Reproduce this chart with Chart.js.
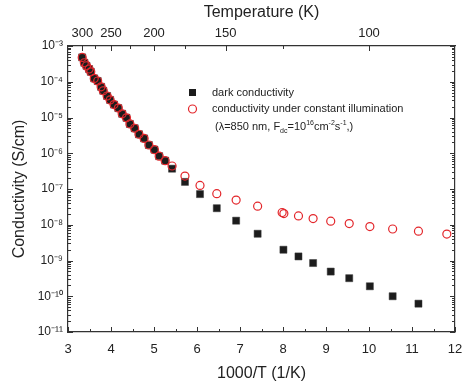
<!DOCTYPE html>
<html>
<head>
<meta charset="utf-8">
<script src="https://cdn.jsdelivr.net/npm/chart.js@4.4.0/dist/chart.umd.min.js"></script>
<style>
body { margin: 0; background: #fff; }
#wrap { width: 462px; height: 388px; }
</style>
</head>
<body>
<div id="wrap"><canvas id="chart"></canvas></div>
<script>
'use strict';

// dark conductivity, x = 1000/T (1/K), y = S/cm
let darkX = [3.33, 3.38, 3.43, 3.49, 3.53, 3.61, 3.69, 3.77, 3.82, 3.91, 3.98, 4.07, 4.17, 4.26, 4.36, 4.44,
    4.55, 4.65, 4.77, 4.88, 5.01, 5.12, 5.26, 5.42, 5.72, 6.07, 6.46, 6.91, 7.41, 8.01, 8.36, 8.70,
    9.11, 9.54, 10.02, 10.55, 11.15];
let darkY = [4.8e-4, 3.4e-4, 2.8e-4, 2.27e-4, 1.9e-4, 1.24e-4, 1.05e-4, 7.2e-5, 5.6e-5, 4.0e-5, 3.1e-5, 2.3e-5,
    1.83e-5, 1.27e-5, 9.8e-6, 6.6e-6, 5.0e-6, 3.4e-6, 2.6e-6, 1.7e-6, 1.26e-6, 8.3e-7, 6.2e-7, 3.7e-7,
    1.58e-7, 7.2e-8, 2.9e-8, 1.3e-8, 5.6e-9, 2.0e-9, 1.3e-9, 8.5e-10, 4.9e-10, 3.2e-10, 1.9e-10,
    1.0e-10, 6.2e-11];

// conductivity under constant illumination
let lightX = [3.33, 3.38, 3.43, 3.49, 3.53, 3.61, 3.69, 3.77, 3.82, 3.91, 3.98, 4.07, 4.17, 4.26, 4.36, 4.44,
    4.55, 4.65, 4.77, 4.88, 5.01, 5.12, 5.26, 5.42, 5.72, 6.07, 6.46, 6.91, 7.41, 7.98, 8.02, 8.36,
    8.70, 9.11, 9.54, 10.02, 10.55, 11.15, 11.81];
let lightY = [4.8e-4, 3.4e-4, 2.8e-4, 2.27e-4, 1.9e-4, 1.24e-4, 1.05e-4, 7.2e-5, 5.6e-5, 4.0e-5, 3.1e-5, 2.3e-5,
    1.83e-5, 1.27e-5, 9.8e-6, 6.6e-6, 5.0e-6, 3.4e-6, 2.6e-6, 1.7e-6, 1.26e-6, 8.3e-7, 6.2e-7, 4.4e-7,
    2.3e-7, 1.26e-7, 7.4e-8, 4.9e-8, 3.3e-8, 2.2e-8, 2.05e-8, 1.77e-8, 1.49e-8, 1.26e-8, 1.08e-8,
    8.9e-9, 7.6e-9, 6.6e-9, 5.5e-9];

// tick values
let xTicks = [3, 4, 5, 6, 7, 8, 9, 10, 11, 12];
let xMinor = [3.5, 4.5, 5.5, 6.5, 7.5, 8.5, 9.5, 10.5, 11.5];
let tempLabels = [300, 250, 200, 150, 100];
let tempMinor = [275, 225, 175, 125];
let yExponents = [-11, -10, -9, -8, -7, -6, -5, -4, -3];

let supDigits = { '0': '⁰', '1': '¹', '2': '²', '3': '³', '4': '⁴', '5': '⁵', '6': '⁶', '7': '⁷', '8': '⁸', '9': '⁹', '-': '⁻' };
function sup(n) {
    return String(n).split('').map(c => supDigits[c]).join('');
}

// log ticks 1..9 per decade
let yTickList = [];
yExponents.forEach(e => {
    for (let m = 1; m <= 9; m++) {
        if (e === -3 && m > 1) break;
        yTickList.push({ value: Number((m * Math.pow(10, e)).toPrecision(3)), big: m === 1, exp: e });
    }
});

let fontFam = '"Liberation Sans", Arial, sans-serif';
let textColor = '#222';
let axisColor = '#333';
let noGrid = { display: false, drawTicks: false, tickLength: 0 };

// draws ticks pointing into the plot
const innerTicks = {
    id: 'innerTicks',
    afterDraw(chart) {
        let ctx = chart.ctx;
        let a = chart.chartArea;
        ctx.save();
        ctx.strokeStyle = axisColor;
        ctx.lineWidth = 1;
        ctx.beginPath();
        ['x', 'x2', 'y', 'y2'].forEach(id => {
            let s = chart.scales[id];
            s.ticks.forEach(t => {
                let p = Math.round(s.getPixelForValue(t.value)) + 0.5;
                let len = t.big ? 5 : 3;
                if (id === 'x') { ctx.moveTo(p, a.bottom); ctx.lineTo(p, a.bottom - len); }
                if (id === 'x2') { ctx.moveTo(p, a.top); ctx.lineTo(p, a.top + len); }
                if (id === 'y') { ctx.moveTo(a.left, p); ctx.lineTo(a.left + len, p); }
                if (id === 'y2') { ctx.moveTo(a.right, p); ctx.lineTo(a.right - len, p); }
            });
        });
        ctx.stroke();
        ctx.restore();
    }
};

// legend inside the plot
const legendBox = {
    id: 'legendBox',
    afterDraw(chart) {
        let ctx = chart.ctx;
        ctx.save();
        ctx.fillStyle = '#1c1c1c';
        ctx.fillRect(189, 89, 7, 7);
        ctx.strokeStyle = '#e3262b';
        ctx.lineWidth = 1.2;
        ctx.beginPath();
        ctx.arc(192.5, 109, 4, 0, Math.PI * 2);
        ctx.stroke();

        ctx.fillStyle = textColor;
        ctx.textBaseline = 'middle';
        ctx.font = '11px ' + fontFam;
        ctx.fillText('dark conductivity', 212, 92.5);
        ctx.fillText('conductivity under constant illumination', 212, 109);

        // third line with sub and superscripts
        let parts = [
            ['(λ=850 nm, F', 0, 11],
            ['dc', 4, 7],
            ['=10', 0, 11],
            ['16', -4, 7],
            ['cm', 0, 11],
            ['-2', -4, 7],
            ['s', 0, 11],
            ['-1', -4, 7],
            [',)', 0, 11]
        ];
        let x = 215;
        parts.forEach(p => {
            ctx.font = p[2] + 'px ' + fontFam;
            ctx.fillText(p[0], x, 127 + p[1]);
            x += ctx.measureText(p[0]).width;
        });
        ctx.restore();
    }
};

let ctx = document.getElementById('chart').getContext('2d');
new Chart(ctx, {
    type: 'scatter',
    data: {
        datasets: [
            {
                label: 'conductivity under constant illumination',
                data: lightX.map((x, i) => ({ x: x, y: lightY[i] })),
                pointStyle: 'circle',
                pointRadius: 4,
                pointHoverRadius: 4,
                borderColor: '#e3262b',
                backgroundColor: 'rgba(255,255,255,0)',
                borderWidth: 1.2,
                order: 0
            },
            {
                label: 'dark conductivity',
                data: darkX.map((x, i) => ({ x: x, y: darkY[i] })),
                pointStyle: 'rect',
                pointRadius: 5,
                pointHoverRadius: 5,
                borderColor: '#3a3a3a',
                backgroundColor: '#1c1c1c',
                borderWidth: 0.5,
                order: 1
            }
        ]
    },
    options: {
        responsive: true,
        maintainAspectRatio: false,
        animation: false,
        layout: { padding: 0 },
        plugins: {
            legend: { display: false },
            tooltip: { enabled: false }
        },
        scales: {
            x: {
                type: 'linear',
                position: 'bottom',
                min: 3,
                max: 12,
                afterBuildTicks: s => { s.ticks = xTicks.map(v => ({ value: v, big: true })).concat(xMinor.map(v => ({ value: v, big: false }))); },
                afterFit: s => { s.height = 56; },
                grid: noGrid,
                border: { display: true, color: axisColor, width: 1.2 },
                ticks: {
                    autoSkip: false,
                    maxRotation: 0,
                    padding: 10,
                    color: textColor,
                    font: { family: fontFam, size: 13 },
                    callback: v => (Number.isInteger(v) ? String(v) : '')
                },
                title: {
                    display: true,
                    text: '1000/T (1/K)',
                    color: textColor,
                    font: { family: fontFam, size: 16 },
                    padding: { top: 0, bottom: 5 }
                }
            },
            x2: {
                type: 'linear',
                position: 'top',
                min: 3,
                max: 12,
                afterBuildTicks: s => {
                    s.ticks = tempLabels.map(T => ({ value: 1000 / T, big: true }))
                        .concat(tempMinor.map(T => ({ value: 1000 / T, big: false })));
                },
                afterFit: s => { s.height = 46; },
                grid: noGrid,
                border: { display: true, color: axisColor, width: 1.2 },
                ticks: {
                    autoSkip: false,
                    maxRotation: 0,
                    padding: 5,
                    color: textColor,
                    font: { family: fontFam, size: 13 },
                    callback: v => {
                        let T = Math.round(1000 / v);
                        return tempLabels.includes(T) ? String(T) : '';
                    }
                },
                title: {
                    display: true,
                    text: 'Temperature (K)',
                    color: textColor,
                    font: { family: fontFam, size: 16 },
                    padding: { top: 3, bottom: 0 }
                }
            },
            y: {
                type: 'logarithmic',
                position: 'left',
                min: 1e-11,
                max: 1e-3,
                afterBuildTicks: s => { s.ticks = yTickList.map(t => ({ value: t.value, big: t.big, exp: t.exp })); },
                afterFit: s => { s.width = 68; },
                grid: noGrid,
                border: { display: true, color: axisColor, width: 1.2 },
                ticks: {
                    autoSkip: false,
                    padding: 5,
                    color: textColor,
                    font: { family: fontFam, size: 12 },
                    callback: (v, i) => {
                        let t = yTickList[i];
                        return t && t.big ? '10' + sup(t.exp) : '';
                    }
                },
                title: {
                    display: true,
                    text: 'Conductivity (S/cm)',
                    color: textColor,
                    font: { family: fontFam, size: 16 },
                    padding: { top: 10, bottom: 0 }
                }
            },
            y2: {
                type: 'logarithmic',
                position: 'right',
                min: 1e-11,
                max: 1e-3,
                afterBuildTicks: s => { s.ticks = yTickList.map(t => ({ value: t.value, big: t.big })); },
                afterFit: s => { s.width = 7; },
                grid: noGrid,
                border: { display: true, color: axisColor, width: 1.2 },
                ticks: { display: false }
            }
        }
    },
    plugins: [innerTicks, legendBox]
});
</script>
</body>
</html>
